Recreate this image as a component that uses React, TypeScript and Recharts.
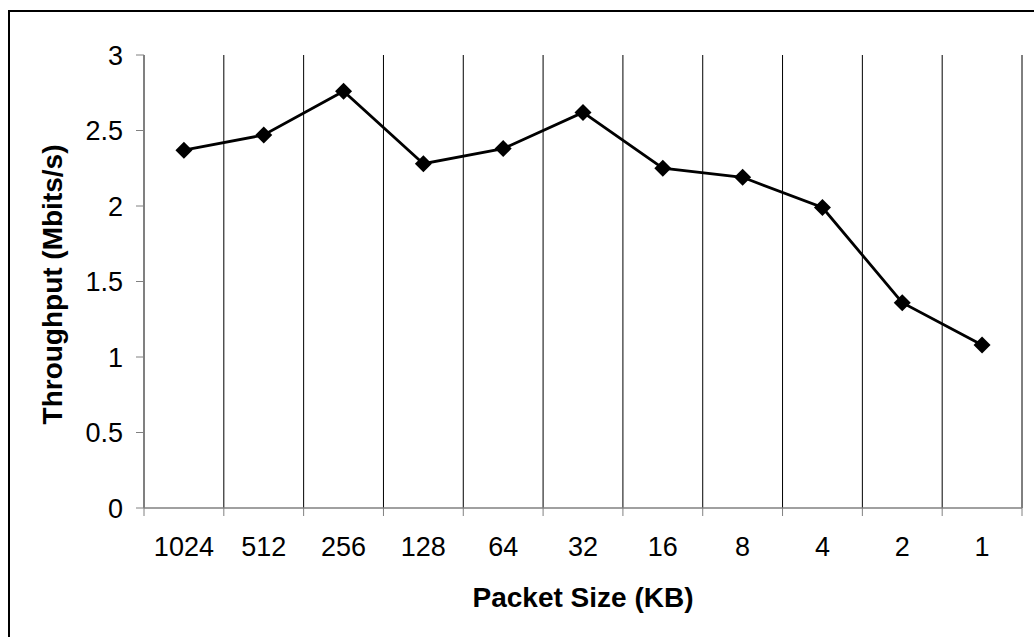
import React from "react";
import { LineChart, Line, XAxis, YAxis, CartesianGrid, Label } from "recharts";

// Packet sizes in KB, largest first as on the chart
const packetSizes = ["1024", "512", "256", "128", "64", "32", "16", "8", "4", "2", "1"];

// Throughput in Mbits/s for each packet size
const throughput = [2.37, 2.47, 2.76, 2.28, 2.38, 2.62, 2.25, 2.19, 1.99, 1.36, 1.08];

const yTicks = [0, 0.5, 1, 1.5, 2, 2.5, 3];

const FONT = "'Liberation Sans', Arial, sans-serif";
const AXIS_GRAY = "#808080";

// each category sits in the middle of its band, boundaries are whole numbers
const chartData = packetSizes.map((size, i) => ({
  pos: i + 0.5,
  size,
  value: throughput[i],
}));
const boundaryTicks = [...packetSizes.map((_, i) => i), packetSizes.length];
const labelTicks = chartData.map((d) => d.pos);

function Diamond(props: { cx?: number; cy?: number; index?: number }) {
  const { cx, cy } = props;
  if (cx == null || cy == null) return null;
  const r = 8.5;
  return (
    <polygon
      key={`dot-${props.index}`}
      points={`${cx},${cy - r} ${cx + r},${cy} ${cx},${cy + r} ${cx - r},${cy}`}
      fill="#000"
      stroke="none"
    />
  );
}

function YTitle({ viewBox }: { viewBox?: { x: number; y: number; width: number; height: number } }) {
  if (!viewBox) return null;
  const cx = viewBox.x + 52;
  const cy = viewBox.y + viewBox.height / 2 + 3;
  return (
    <text
      x={cx}
      y={cy}
      transform={`rotate(-90 ${cx} ${cy})`}
      textAnchor="middle"
      dominantBaseline="central"
      fontFamily={FONT}
      fontSize={28}
      fontWeight="bold"
      fill="#000"
    >
      Throughput (Mbits/s)
    </text>
  );
}

export default function App() {
  return (
    <div
      style={{
        position: "absolute",
        left: 0,
        top: 0,
        width: 1034,
        height: 637,
        overflow: "hidden",
        background: "#fff",
      }}
    >
      {/* outer chart frame, only left and top edges fall inside the picture */}
      <div
        style={{
          position: "absolute",
          left: 8,
          top: 10,
          width: 1026,
          height: 627,
          borderLeft: "2px solid #000",
          borderTop: "2px solid #000",
        }}
      />
      <div style={{ position: "absolute", left: 0, top: 0 }}>
        <LineChart
          width={1034}
          height={637}
          data={chartData}
          margin={{ top: 55, right: 12, bottom: 0, left: 0 }}
        >
          <CartesianGrid
            xAxisId="grid"
            horizontal={false}
            vertical={true}
            stroke="#000"
            strokeWidth={1}
          />
          <XAxis
            xAxisId="grid"
            type="number"
            dataKey="pos"
            domain={[0, packetSizes.length]}
            ticks={boundaryTicks}
            interval={0}
            height={8}
            tickSize={8}
            tickFormatter={() => ""}
            axisLine={{ stroke: AXIS_GRAY, strokeWidth: 1.5 }}
            tickLine={{ stroke: AXIS_GRAY, strokeWidth: 1 }}
          />
          <XAxis
            xAxisId="labels"
            type="number"
            dataKey="pos"
            domain={[0, packetSizes.length]}
            ticks={labelTicks}
            interval={0}
            height={121}
            tickSize={0}
            tickMargin={21}
            axisLine={false}
            tickLine={false}
            tickFormatter={(v: number) => packetSizes[Math.floor(v)]}
            tick={{ fill: "#000", fontSize: 27, fontFamily: FONT }}
          >
            <Label
              value="Packet Size (KB)"
              position="insideBottom"
              offset={30}
              style={{ fontFamily: FONT, fontSize: 28, fontWeight: "bold", fill: "#000" }}
            />
          </XAxis>
          <YAxis
            type="number"
            domain={[0, 3]}
            ticks={yTicks}
            interval={0}
            width={144}
            tickSize={8}
            tickMargin={13}
            axisLine={{ stroke: AXIS_GRAY, strokeWidth: 1.5 }}
            tickLine={{ stroke: AXIS_GRAY, strokeWidth: 1 }}
            tick={{ fill: "#000", fontSize: 27, fontFamily: FONT }}
          >
            <Label content={<YTitle />} />
          </YAxis>
          <Line
            xAxisId="grid"
            type="linear"
            dataKey="value"
            stroke="#000"
            strokeWidth={2.8}
            dot={<Diamond />}
            activeDot={false}
            isAnimationActive={false}
          />
        </LineChart>
      </div>
    </div>
  );
}
